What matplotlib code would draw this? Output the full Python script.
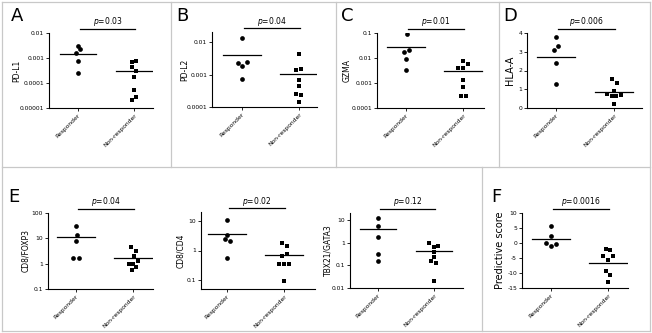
import numpy as np
import matplotlib
matplotlib.use("Agg")
import matplotlib.pyplot as plt
from matplotlib.lines import Line2D

W, H = 652, 333
groups = ["Responder", "Non-responder"]

# values (responders: circles, non-responders: squares)
pdl1_resp = [0.0029, 0.0023, 0.0016, 0.00078, 0.00025]
pdl1_non = [0.00078, 0.00069, 0.00044, 0.00031, 0.000174, 0.000054, 0.0000275, 0.0000216]
pdl1_lines = [0.0015, 0.0003]

pdl2_resp = [0.0139, 0.00228, 0.0025, 0.0018, 0.00074]
pdl2_non = [0.0043, 0.00142, 0.00153, 0.0007, 0.00046, 0.00026, 0.00024, 0.000139]
pdl2_lines = [0.0041, 0.00108]

gzma_resp = [0.089, 0.0177, 0.0206, 0.0093, 0.0032]
gzma_non = [0.0077, 0.0040, 0.0040, 0.0056, 0.00133, 0.00072, 0.00031, 0.00031]
gzma_lines = [0.027, 0.003]

hla_resp = [3.79, 3.30, 3.07, 2.38, 1.30]
hla_non = [1.53, 1.36, 0.93, 0.76, 0.65, 0.65, 0.67, 0.21]
hla_lines = [2.73, 0.85]

foxp3_resp = [29.9, 14.1, 8.2, 1.75, 1.75]
foxp3_non = [4.47, 3.3, 1.98, 1.26, 0.93, 0.93, 0.71, 0.54]
foxp3_lines = [11.4, 1.75]

cd4_resp = [10.5, 3.3, 2.54, 2.17, 0.54]
cd4_non = [1.81, 1.4, 0.63, 0.79, 0.35, 0.35, 0.35, 0.09]
cd4_lines = [3.74, 0.73]

gata3_resp = [11.8, 5.1, 1.84, 0.32, 0.16]
gata3_non = [1.0, 0.65, 0.74, 0.37, 0.22, 0.16, 0.13, 0.021]
gata3_lines = [3.95, 0.41]

score_resp = [5.6, 2.5, 0.0, -0.4, -0.9]
score_non = [-1.9, -2.4, -4.3, -4.3, -5.5, -9.4, -10.7, -13.1]
score_lines = [1.4, -6.5]

# horizontal scatter of the dots, in category units
jit_a = ([0, 0.04, -0.03, 0, 0], [0.04, -0.035, -0.03, 0.04, 0, 0, 0.04, -0.035])
jit_b = ([0, -0.075, 0.09, 0, 0], [0, -0.05, 0.04, 0, 0, -0.05, 0.04, 0])
jit_c = ([0.01, -0.04, 0.05, 0, 0], [0, -0.09, 0, 0.09, 0, 0, -0.04, 0.05])
jit_d = ([0, 0.04, -0.04, 0, 0], [-0.035, 0.05, 0, -0.12, -0.035, 0.04, 0.12, 0])
jit_e1 = ([0, 0.01, 0, -0.05, 0.05], [-0.03, 0.06, 0.01, 0.09, -0.07, 0, 0.06, -0.02])
jit_e2 = ([0, 0, -0.04, 0.05, 0], [-0.03, 0.05, -0.03, 0.05, -0.09, 0, 0.09, 0])
jit_e3 = ([0, 0, 0, 0, 0], [-0.09, 0, 0.08, 0, 0, -0.05, 0.04, 0])
jit_f = ([0, 0, -0.08, 0.08, 0], [-0.04, 0.04, -0.08, 0.08, 0, -0.04, 0.04, 0])

fig = plt.figure(figsize=(W / 100, H / 100), dpi=100)
fig.patch.set_facecolor("white")

# panel frames
gray = "#c8c8c8"
frame = [
    ((2, 650), (2, 2)), ((2, 650), (331, 331)), ((2, 2), (2, 331)), ((650, 650), (2, 331)),
    ((2, 650), (167, 167)), ((171, 171), (2, 167)), ((336, 336), (2, 167)),
    ((499, 499), (2, 167)), ((482, 482), (167, 331)),
]
for xs, ys in frame:
    fig.add_artist(Line2D([x / W for x in xs], [1 - y / H for y in ys],
                          color=gray, lw=0.9))


def panel(box, resp, non, lines, jit, ylim, ylabel, ptext, ticks, ticklabels,
          log=True, ylsize=5.5, lab_off=20):
    left, right, top, bottom, xr, xn = box
    ax = fig.add_axes([left / W, 1 - bottom / H, (right - left) / W, (bottom - top) / H])
    unit = xn - xr
    ax.set_xlim(-(xr - left) / unit, 1 + (right - xn) / unit)
    if log:
        ax.set_yscale("log")
    ax.set_ylim(*ylim)
    ax.plot(np.array(jit[0]), resp, "o", color="black", ms=3.4, mew=0)
    ax.plot(1 + np.array(jit[1]), non, "s", color="black", ms=3.2, mew=0)
    for i, v in enumerate(lines):
        ax.plot([i - 0.33, i + 0.33], [v, v], color="black", lw=0.9)
    for s in ["top", "right"]:
        ax.spines[s].set_visible(False)
    for s in ["left", "bottom"]:
        ax.spines[s].set_linewidth(0.8)
    ax.set_xticks([0, 1])
    ax.set_xticklabels(groups, rotation=45, ha="right", rotation_mode="anchor", fontsize=4.5)
    ax.minorticks_off()
    ax.set_yticks(ticks)
    ax.set_yticklabels(ticklabels)
    ax.tick_params(axis="both", labelsize=4.3, length=2, width=0.6, pad=1.5)
    ax.set_ylabel(ylabel, fontsize=ylsize)
    ax.yaxis.set_label_coords(-lab_off / (right - left), 0.5)
    # p-value bracket
    bar_y = top - 4
    x0 = xr + 2
    x1 = xn + 1
    fig.add_artist(Line2D([x0 / W, x1 / W], [1 - bar_y / H] * 2, color="black", lw=0.9))
    fig.text((x0 + x1) / 2 / W, 1 - (bar_y - 7) / H, "$p$=" + ptext, fontsize=5.5,
             ha="center", va="center")
    return ax


panel((49, 153, 33, 108, 78, 134), pdl1_resp, pdl1_non, pdl1_lines, jit_a,
      (1e-5, 1e-2), "PD-L1", "0.03",
      [1e-5, 1e-4, 1e-3, 1e-2], ["0.00001", "0.0001", "0.001", "0.01"], lab_off=28)
panel((212, 317, 32, 107, 242, 299), pdl2_resp, pdl2_non, pdl2_lines, jit_b,
      (1e-4, 0.021), "PD-L2", "0.04",
      [1e-4, 1e-3, 1e-2], ["0.0001", "0.001", "0.01"], lab_off=23)
panel((377, 484, 33, 108, 406, 463), gzma_resp, gzma_non, gzma_lines, jit_c,
      (1e-4, 0.1), "GZMA", "0.01",
      [1e-4, 1e-3, 1e-2, 1e-1], ["0.0001", "0.001", "0.01", "0.1"], lab_off=25)
panel((527, 642, 33, 108, 556, 614), hla_resp, hla_non, hla_lines, jit_d,
      (0, 4), "HLA-A", "0.006", [0, 1, 2, 3, 4], ["0", "1", "2", "3", "4"],
      log=False, ylsize=7, lab_off=12)
panel((48, 153, 213, 289, 76, 133), foxp3_resp, foxp3_non, foxp3_lines, jit_e1,
      (0.1, 100), "CD8/FOXP3", "0.04",
      [0.1, 1, 10, 100], ["0.1", "1", "10", "100"], lab_off=18)
panel((201, 315, 212, 289, 227, 284), cd4_resp, cd4_non, cd4_lines, jit_e2,
      (0.05, 20), "CD8/CD4", "0.02",
      [0.1, 1, 10], ["0.1", "1", "10"], lab_off=16)
panel((350, 463, 213, 288, 378, 434), gata3_resp, gata3_non, gata3_lines, jit_e3,
      (0.01, 20), "TBX21/GATA3", "0.12",
      [0.01, 0.1, 1, 10], ["0.01", "0.1", "1", "10"], lab_off=18)
panel((522, 628, 213, 288, 551, 608), score_resp, score_non, score_lines, jit_f,
      (-15, 10), "Predictive score", "0.0016",
      [-15, -10, -5, 0, 5, 10], ["-15", "-10", "-5", "0", "5", "10"],
      log=False, ylsize=7, lab_off=17)

letters = [("A", 11, 16), ("B", 176, 16), ("C", 341, 16), ("D", 503, 16),
           ("E", 8, 197), ("F", 491, 197)]
for t, x, y in letters:
    fig.text(x / W, 1 - y / H, t, fontsize=13, ha="left", va="center")

fig.savefig("out.png", dpi=100, facecolor="white")
